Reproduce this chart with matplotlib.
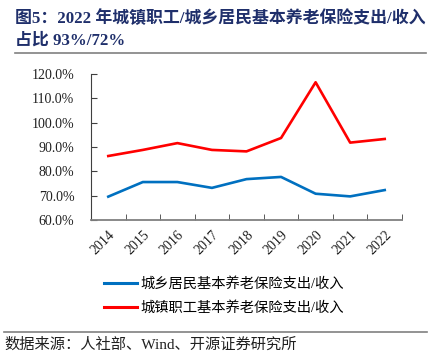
import matplotlib
matplotlib.use("Agg")
import matplotlib.pyplot as plt
from matplotlib.lines import Line2D

plt.rcParams['font.family'] = ['Liberation Serif', 'Noto Sans CJK SC']

years = ['2014', '2015', '2016', '2017', '2018', '2019', '2020', '2021', '2022']
rural = [69.6, 75.6, 75.6, 73.2, 76.8, 77.7, 70.8, 69.7, 72.3]   # 城乡居民
urban = [86.3, 88.8, 91.6, 88.8, 88.2, 93.7, 116.6, 91.8, 93.3]  # 城镇职工
yticks = [60, 70, 80, 90, 100, 110, 120]

fig = plt.figure(figsize=(4.4, 3.64), dpi=100)
ax = fig.add_axes([91 / 440, 1 - 220 / 364, (402 - 91) / 440, (220 - 74) / 364])

x = list(range(len(years)))
ax.plot(x, rural, color='#0070C0', lw=1.9, label='城乡居民基本养老保险支出/收入')
ax.plot(x, urban, color='#FF0000', lw=1.9, label='城镇职工基本养老保险支出/收入')

ax.set_xlim(-0.5, len(years) - 0.5)
ax.set_ylim(60, 120)
ax.set_yticks(yticks)
ax.set_yticklabels([f'{v:.1f}%' for v in yticks], fontsize=10, color='#202020')
ax.set_xticks(x)
ax.set_xticklabels(years, fontsize=10, rotation=45, ha='right', va='top',
                   rotation_mode='anchor', color='#202020')
ax.set_xticks([i - 0.5 for i in range(len(years) + 1)], minor=True)
ax.tick_params(axis='x', which='major', length=0, pad=6)
ax.tick_params(axis='x', which='minor', direction='in', length=4, color='#404040')
ax.tick_params(axis='y', direction='in', length=4, color='#404040', pad=12)

for s in ['top', 'right']:
    ax.spines[s].set_visible(False)
ax.spines['left'].set_color('#404040')
ax.spines['bottom'].set_color('#808080')
ax.spines['bottom'].set_linewidth(1.3)

# legend
handles = [Line2D([0], [0], color='#0070C0', lw=2.2),
           Line2D([0], [0], color='#FF0000', lw=2.2)]
fig.legend(handles, ['城乡居民基本养老保险支出/收入', '城镇职工基本养老保险支出/收入'],
           loc='center', bbox_to_anchor=(224 / 440, 1 - 296 / 364), frameon=False,
           fontsize=10.3, handlelength=2.3, handletextpad=0.3, labelspacing=0.7)

# title
navy = '#1F2F6B'
fig.text(15 / 440, 1 - 19 / 364, '图5：2022 年城镇职工/城乡居民基本养老保险支出/收入',
         fontsize=12.2, fontweight='bold', color=navy, va='center', ha='left')
fig.text(15 / 440, 1 - 41 / 364, '占比 93%/72%',
         fontsize=12.2, fontweight='bold', color=navy, va='center', ha='left')
fig.add_artist(Line2D([15 / 440, 426 / 440], [1 - 53 / 364, 1 - 53 / 364],
                      color='#808080', lw=1.2))
fig.add_artist(Line2D([4 / 440, 427 / 440], [1 - 332 / 364, 1 - 332 / 364],
                      color='#808080', lw=1.2))
fig.text(4 / 440, 1 - 345 / 364, '数据来源：人社部、Wind、开源证券研究所',
         fontsize=11, color='#202020', va='center', ha='left')

fig.savefig('out.png', dpi=100)
